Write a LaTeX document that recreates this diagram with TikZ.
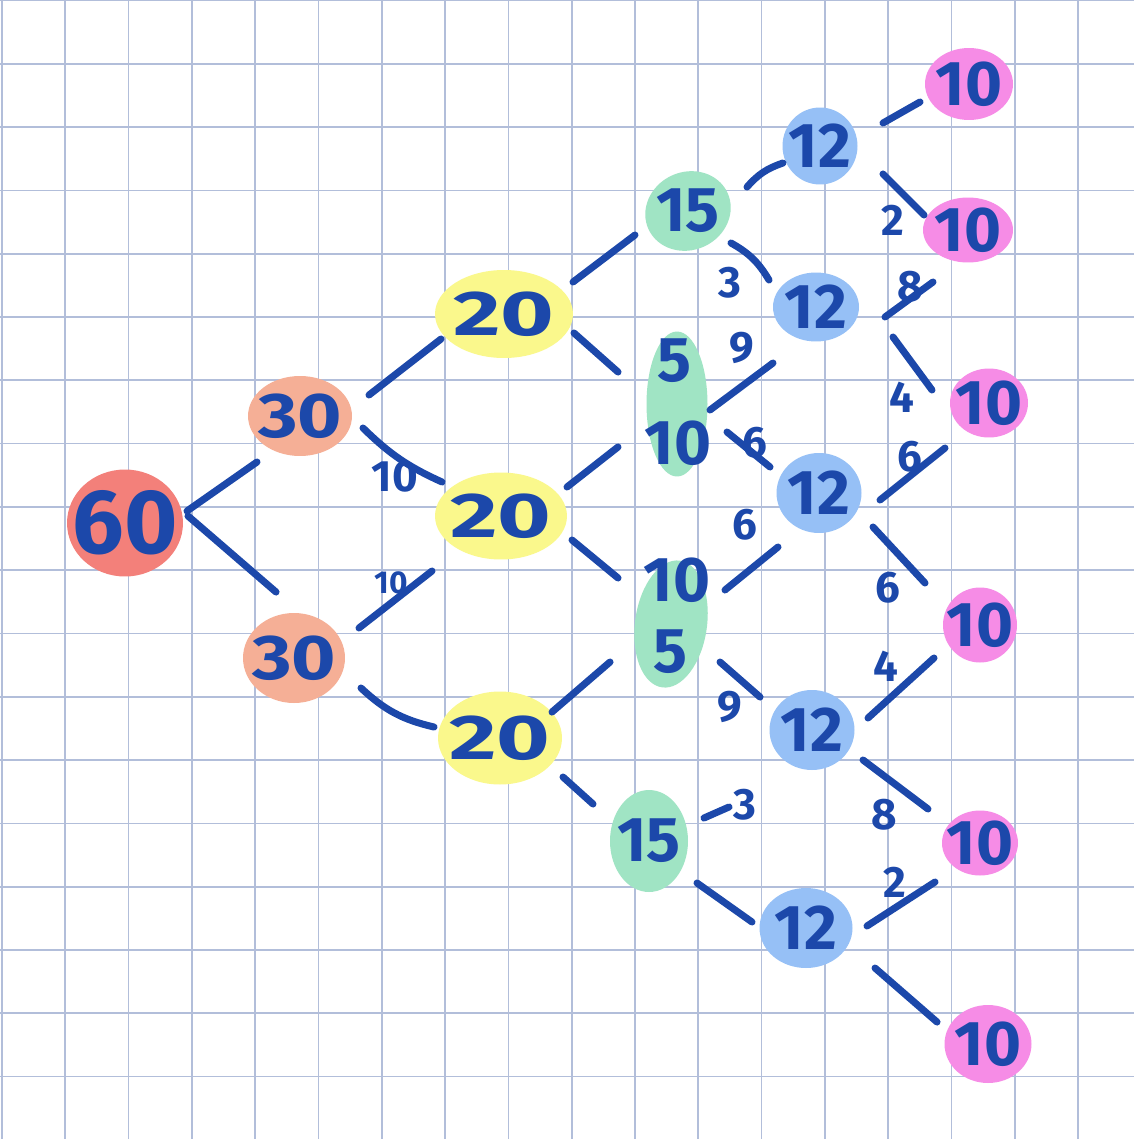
\documentclass[tikz,border=0pt]{standalone}
\usepackage{fontspec}
\setmainfont{Fira Sans}
\newfontfamily\widetwo{Fira Sans}[FakeStretch=1.45]
\newfontfamily\widethree{Fira Sans}[FakeStretch=1.2]
\usetikzlibrary{calc,shapes.geometric}
\definecolor{ink}{RGB}{28,72,170}
\definecolor{gridc}{RGB}{178,190,218}
\definecolor{cred}{RGB}{243,128,122}
\definecolor{csal}{RGB}{245,175,150}
\definecolor{cyel}{RGB}{250,248,140}
\definecolor{cgrn}{RGB}{160,228,196}
\definecolor{cblu}{RGB}{150,192,246}
\definecolor{cpnk}{RGB}{246,140,230}
\begin{document}
\begin{tikzpicture}[x=0.02cm,y=-0.02cm,
  blob/.style={ellipse, fill=#1, draw=none, inner sep=0pt},
  num/.style={text=ink, inner sep=0pt, font={\fontsize{36}{38}\selectfont\bfseries}},
  numtwo/.style={text=ink, inner sep=0pt, font={\widetwo\fontsize{36}{38}\selectfont\bfseries}},
  numthree/.style={text=ink, inner sep=0pt, font={\widethree\fontsize{36}{38}\selectfont\bfseries}},
  bignum/.style={text=ink, inner sep=0pt, font={\fontsize{52}{54}\selectfont\bfseries}},
  edge/.style={draw=ink, line width=4pt, line cap=round},
  lab/.style={text=ink, inner sep=0pt, font={\fontsize{25}{27}\selectfont\bfseries}},
  smlab/.style={text=ink, inner sep=0pt, font={\fontsize{18}{20}\selectfont\bfseries}},
  gridline/.style={draw=gridc, line width=1pt}]
\useasboundingbox (0,0) rectangle (1134,1139);
\fill[white] (0,0) rectangle (1134,1139);
\foreach \i in {0,...,17} {
  \draw[gridline] (2+63.3*\i,0) -- (2+63.3*\i,1139);
  \draw[gridline] (0,0.5+63.3*\i) -- (1134,0.5+63.3*\i);
}
% nodes
\node[blob=cred, minimum width=2.32cm, minimum height=2.14cm, label={[bignum]center:60}] (n60) at (125,523) {};
\node[blob=csal, minimum width=2.08cm, minimum height=1.6cm, label={[numthree]center:30}] (a1) at (300,416) {};
\node[blob=csal, minimum width=2.04cm, minimum height=1.8cm, label={[numthree]center:30}] (a2) at (294,658) {};
\node[blob=cyel, minimum width=2.76cm, minimum height=1.76cm, label={[numtwo]center:20}] (b1) at (504,314) {};
\node[blob=cyel, minimum width=2.64cm, minimum height=1.74cm, label={[numtwo]center:20}] (b2) at (501,516) {};
\node[blob=cyel, minimum width=2.48cm, minimum height=1.86cm, label={[numtwo]center:20}] (b3) at (500,738) {};
\node[blob=cgrn, minimum width=1.74cm, minimum height=1.56cm, rotate=25, label={[num]center:15}] (c1) at (688,211) {};
\node[blob=cgrn, minimum width=1.22cm, minimum height=2.9cm] (c2) at (677,404) {};
\node[num] (c2t) at (674,361) {5};
\node[num] (c2b) at (678,443) {10};
\node[blob=cgrn, minimum width=1.44cm, minimum height=2.56cm, rotate=-8] (c3) at (671,624) {};
\node[num] (c3t) at (677,580) {10};
\node[num] (c3b) at (670,652) {5};
\node[blob=cgrn, minimum width=1.56cm, minimum height=2.04cm, label={[num]center:15}] (c4) at (649,841) {};
\node[blob=cblu, minimum width=1.5cm, minimum height=1.54cm, label={[num]center:12}] (d1) at (820,146) {};
\node[blob=cblu, minimum width=1.72cm, minimum height=1.38cm, label={[num]center:12}] (d2) at (816,307) {};
\node[blob=cblu, minimum width=1.7cm, minimum height=1.6cm, label={[num]center:12}] (d3) at (819,493) {};
\node[blob=cblu, minimum width=1.7cm, minimum height=1.6cm, label={[num]center:12}] (d4) at (812,730) {};
\node[blob=cblu, minimum width=1.86cm, minimum height=1.6cm, label={[num]center:12}] (d5) at (806,928) {};
\node[blob=cpnk, minimum width=1.76cm, minimum height=1.44cm, label={[num]center:10}] (e1) at (969,84) {};
\node[blob=cpnk, minimum width=1.8cm, minimum height=1.3cm, label={[num]center:10}] (e2) at (968,230) {};
\node[blob=cpnk, minimum width=1.56cm, minimum height=1.38cm, label={[num]center:10}] (e3) at (989,403) {};
\node[blob=cpnk, minimum width=1.48cm, minimum height=1.5cm, label={[num]center:10}] (e4) at (980,625) {};
\node[blob=cpnk, minimum width=1.52cm, minimum height=1.3cm, label={[num]center:10}] (e5) at (980,843) {};
\node[blob=cpnk, minimum width=1.74cm, minimum height=1.56cm, label={[num]center:10}] (e6) at (988,1044) {};
% edges
\draw[edge] ($(n60)+(62,-12)$) -- ($(a1)+(-43,46)$);
\draw[edge] ($(n60)+(63,-7)$) -- ($(a2)+(-18,-66)$);
\draw[edge] ($(a1)+(69,-21)$) -- ($(b1)+(-63,25)$);
\draw[edge] ($(a1)+(63,12)$) to[bend right=10] ($(b2)+(-59,-34)$);
\draw[edge] ($(a2)+(65,-30)$) -- ($(b2)+(-69,55)$);
\draw[edge] ($(a2)+(67,30)$) to[bend right=15] ($(b3)+(-66,-11)$);
\draw[edge] ($(b1)+(69,-32)$) -- ($(c1)+(-53,24)$);
\draw[edge] ($(b1)+(70,19)$) -- ($(c2)+(-59,-32)$);
\draw[edge] ($(b2)+(66,-29)$) -- ($(c2)+(-59,43)$);
\draw[edge] ($(b2)+(71,24)$) -- ($(c3)+(-53,-46)$);
\draw[edge] ($(b3)+(52,-26)$) -- ($(c3)+(-61,38)$);
\draw[edge] ($(b3)+(63,39)$) -- ($(c4)+(-56,-37)$);
\draw[edge] ($(c1)+(59,-24)$) to[bend left=15] ($(d1)+(-37,17)$);
\draw[edge] ($(c1)+(43,32)$) to[bend left=15] ($(d2)+(-47,-27)$);
\draw[edge] ($(c2)+(33,6)$) -- ($(d2)+(-43,56)$);
\draw[edge] ($(c2)+(50,28)$) -- ($(d3)+(-49,-26)$);
\draw[edge] ($(c3)+(54,-34)$) -- ($(d3)+(-41,54)$);
\draw[edge] ($(c3)+(49,38)$) -- ($(d4)+(-52,-33)$);
\draw[edge] ($(c4)+(55,-23)$) -- ($(d4)+(-83,77)$);
\draw[edge] ($(c4)+(48,42)$) -- ($(d5)+(-54,-6)$);
\draw[edge] ($(d1)+(63,-23)$) -- ($(e1)+(-49,18)$);
\draw[edge] ($(d1)+(63,28)$) -- ($(e2)+(-44,-15)$);
\draw[edge] ($(d2)+(69,10)$) -- ($(e2)+(-35,52)$);
\draw[edge] ($(d2)+(77,30)$) -- ($(e3)+(-57,-13)$);
\draw[edge] ($(d3)+(61,7)$) -- ($(e3)+(-44,45)$);
\draw[edge] ($(d3)+(54,34)$) -- ($(e4)+(-55,-42)$);
\draw[edge] ($(d4)+(56,-12)$) -- ($(e4)+(-46,33)$);
\draw[edge] ($(d4)+(51,30)$) -- ($(e5)+(-52,-34)$);
\draw[edge] ($(d5)+(61,-2)$) -- ($(e5)+(-45,39)$);
\draw[edge] ($(d5)+(69,40)$) -- ($(e6)+(-51,-22)$);
% labels
\node[lab] (l1) at (395,477) {10};
\node[smlab] (l2) at (391,583) {10};
\node[lab] (l3) at (730,283) {3};
\node[lab] (l4) at (742,348) {9};
\node[lab] (l5) at (755,443) {6};
\node[lab] (l6) at (745,525) {6};
\node[lab] (l7) at (730,707) {9};
\node[lab] (l8) at (745,805) {3};
\node[lab] (l9) at (893,220) {2};
\node[lab] (l10) at (910,287) {8};
\node[lab] (l11) at (902,397) {4};
\node[lab] (l12) at (910,457) {6};
\node[lab] (l13) at (888,588) {6};
\node[lab] (l14) at (886,666) {4};
\node[lab] (l15) at (884,815) {8};
\node[lab] (l16) at (895,882) {2};
\end{tikzpicture}
\end{document}
